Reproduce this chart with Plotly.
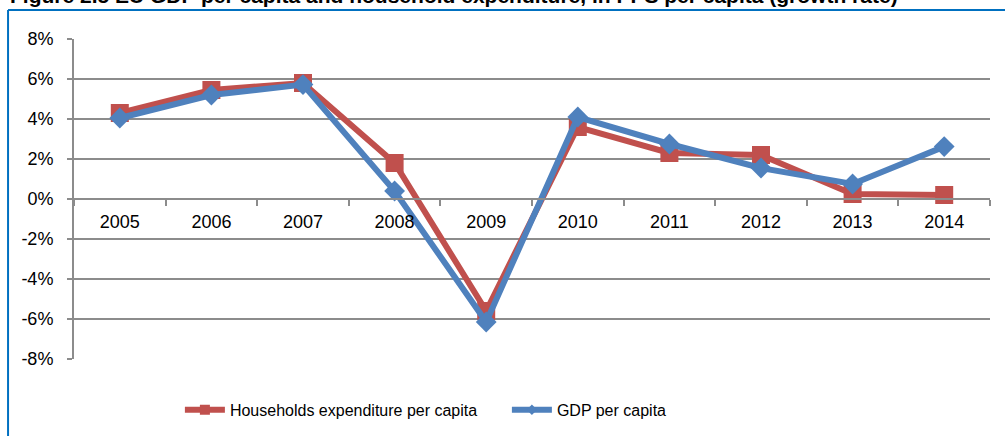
import plotly.graph_objects as go

years = ["2005", "2006", "2007", "2008", "2009", "2010", "2011", "2012", "2013", "2014"]
households = [4.3, 5.45, 5.8, 1.8, -5.6, 3.6, 2.3, 2.2, 0.25, 0.2]
gdp = [4.05, 5.2, 5.72, 0.4, -6.15, 4.1, 2.75, 1.55, 0.75, 2.62]
y_ticks = [-8, -6, -4, -2, 0, 2, 4, 6, 8]
y_tick_labels = [f"{v}%" for v in y_ticks]

RED = "#C0504D"
BLUE = "#4F81BD"
FONT = "Liberation Sans, Arial, sans-serif"

fig = go.Figure()
fig.add_trace(go.Scatter(x=years, y=households, mode="lines+markers",
                         line=dict(color=RED, width=6),
                         marker=dict(symbol="square", size=18, color=RED),
                         showlegend=False))
fig.add_trace(go.Scatter(x=years, y=gdp, mode="lines+markers",
                         line=dict(color=BLUE, width=6),
                         marker=dict(symbol="diamond", size=16, color=BLUE),
                         showlegend=False))
# legend entries
fig.add_trace(go.Scatter(x=[None], y=[None], mode="lines+markers",
                         name="Households expenditure per capita",
                         line=dict(color=RED, width=6),
                         marker=dict(symbol="square", size=10, color=RED)))
fig.add_trace(go.Scatter(x=[None], y=[None], mode="lines+markers",
                         name="GDP per capita",
                         line=dict(color=BLUE, width=6),
                         marker=dict(symbol="diamond", size=8, color=BLUE)))

fig.update_layout(
    template="none",
    width=1005, height=436,
    margin=dict(l=74, r=15, t=39, b=77, autoexpand=False),
    paper_bgcolor="white", plot_bgcolor="white",
    font=dict(family=FONT, size=18, color="black"),
    showlegend=True,
    legend=dict(orientation="h", xref="container", yref="container",
                x=0.179, xanchor="left", y=0.06, yanchor="middle",
                font=dict(family=FONT, size=16),
                entrywidth=272, entrywidthmode="pixels",
                itemwidth=40, bgcolor="rgba(0,0,0,0)"),
    xaxis=dict(type="category", categoryorder="array", categoryarray=years,
               anchor="free", position=0.5, automargin=False,
               showline=True, linecolor="#8C8C8C", linewidth=2,
               ticks="outside", ticklen=6, tickcolor="#8C8C8C", tickwidth=2,
               tickson="boundaries", showgrid=False, ticklabelstandoff=6,
               range=[-0.5, 9.5], zeroline=False),
    yaxis=dict(range=[-8, 8], tickvals=y_ticks, ticktext=y_tick_labels, automargin=False,
               showline=True, linecolor="#8C8C8C", linewidth=2,
               ticks="outside", ticklen=5, tickcolor="#8C8C8C", tickwidth=2,
               showgrid=True, gridcolor="#8C8C8C", gridwidth=2,
               zeroline=False, ticklabelstandoff=10),
)

fig.add_annotation(text="<b>Figure 2.5 EU GDP per capita and household expenditure, in PPS per capita (growth rate)</b>",
                   xref="paper", yref="paper", x=-0.072, y=1.094, xanchor="left", yanchor="bottom",
                   showarrow=False, font=dict(family=FONT, size=21, color="black"))

fig.add_shape(type="line", xref="paper", yref="paper", x0=-0.072, x1=1.03, y0=1.0906, y1=1.0906,
              line=dict(color="#0070C0", width=2))
fig.add_shape(type="line", xref="paper", yref="paper", x0=-0.072, x1=-0.072, y0=1.0906, y1=-0.25,
              line=dict(color="#0070C0", width=2))

fig.write_html("out.html", config={"displayModeBar": False},
               post_script="document.body.style.margin='0';")
